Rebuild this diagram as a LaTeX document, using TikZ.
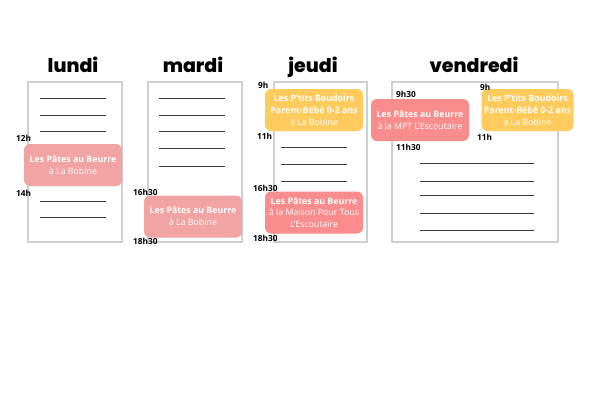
\documentclass[tikz,border=0pt]{standalone}
\usepackage{fontspec}
\setmainfont{Open Sans}
\newfontfamily\dayfont{Poppins ExtraBold}
\definecolor{pinkbox}{HTML}{F2A3A3}
\definecolor{salmonbox}{HTML}{F98C8C}
\definecolor{yellowbox}{HTML}{FFCB5C}
\definecolor{rulegray}{HTML}{3A3A3A}
\definecolor{framegray}{HTML}{CFCFCF}
\tikzset{
  day/.style={anchor=base,font=\dayfont\fontsize{19}{19}\selectfont},
  hour/.style={anchor=west,inner sep=0pt,font=\bfseries\fontsize{8.3}{9}\selectfont},
  panel/.style={draw=framegray,line width=1.2pt},
  rule/.style={draw=rulegray,line width=0.9pt},
  slot/.style={rounded corners=6pt,text=white,align=center,inner sep=0pt,
    minimum width=98pt,minimum height=42pt,font=\fontsize{8.8}{11.8}\selectfont},
}
\begin{document}
\begin{tikzpicture}[x=1pt,y=-1pt]
  \useasboundingbox[fill=white] (0,0) rectangle (600,400);
  % days
  \draw
    (73,72) node[day] (lundi){lundi}
    (193,72) node[day] (mardi){mardi}
    (313,72) node[day] (jeudi){jeudi}
    (474,72) node[day] (vendredi){vendredi};
  % panels
  \begin{scope}[panel]
    \draw (28,82) rectangle (122,242);
    \draw (148,82) rectangle (242,242);
    \draw (274,82) rectangle (367,242);
    \draw (392,82) rectangle (558,242);
  \end{scope}
  % rules
  \begin{scope}[rule]
    \draw (40,98) -- (106,98) (40,115) -- (106,115) (40,131) -- (106,131);
    \draw (40,201) -- (106,201) (40,217) -- (106,217);
    \draw (159,98) -- (225,98) (159,115) -- (225,115) (159,131) -- (225,131);
    \draw (159,148) -- (225,148) (159,166) -- (225,166);
    \draw (281,147) -- (347,147) (281,164) -- (347,164) (281,181) -- (347,181);
    \draw (420,163) -- (534,163) (420,181) -- (534,181) (420,195) -- (534,195);
    \draw (420,213) -- (534,213) (420,230) -- (534,230);
  \end{scope}
  % slots
  \node[slot,fill=pinkbox] (pates1) at (73,165)
    {\textbf{Les Pâtes au Beurre}\\à La Bobine};
  \node[slot,fill=pinkbox] (pates2) at (193,216.5)
    {\textbf{Les Pâtes au Beurre}\\à La Bobine};
  \node[slot,fill=yellowbox] (boudoirs1) at (314,110)
    {\textbf{Les P'tits Boudoirs}\\\textbf{Parent-Bébé 0-2 ans}\\à La Bobine};
  \node[slot,fill=salmonbox] (pates3) at (314,212.5)
    {\textbf{Les Pâtes au Beurre}\\à la Maison Pour Tous\\L'Escoutaïre};
  \node[slot,fill=salmonbox] (pates4) at (420,120)
    {\textbf{Les Pâtes au Beurre}\\à la MPT L'Escoutaïre};
  \node[slot,fill=yellowbox,minimum width=92pt] (boudoirs2) at (527.5,110)
    {\textbf{Les P'tits Boudoirs}\\\textbf{Parent-Bébé 0-2 ans}\\à La Bobine};
  % hours
  \draw
    (16,138) node[hour] (h12){12h}
    (16,193) node[hour] (h14){14h}
    (133,192) node[hour] (h1630a){16h30}
    (133,241) node[hour] (h1830a){18h30}
    (258,85) node[hour] (h9a){9h}
    (257,136) node[hour] (h11a){11h}
    (253,188) node[hour] (h1630b){16h30}
    (253,238) node[hour] (h1830b){18h30}
    (396,94) node[hour] (h930){9h30}
    (396,147) node[hour] (h1130){11h30}
    (480,87) node[hour] (h9b){9h}
    (477,137) node[hour] (h11b){11h};
\end{tikzpicture}
\end{document}
